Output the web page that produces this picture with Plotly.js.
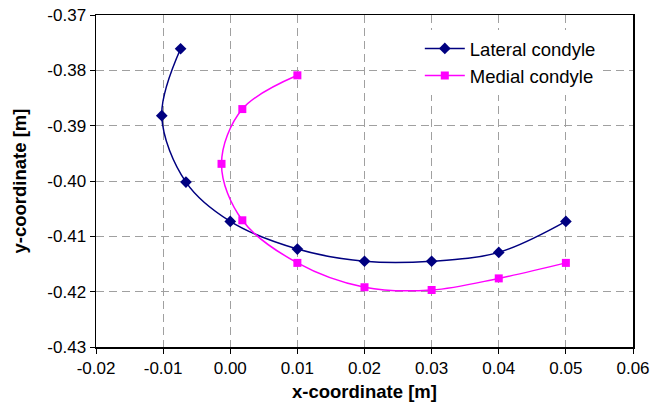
<!DOCTYPE html>
<html><head><meta charset="utf-8">
<script src="https://cdn.plot.ly/plotly-3.0.1.min.js"></script>
<style>body{margin:0;background:#fff}#chart{width:651px;height:411px}</style>
</head><body><div id="chart"></div>
<script>
const lateralX = [-0.0074, -0.0102, -0.0066, 0.0000, 0.010, 0.020, 0.030, 0.040, 0.050];
const lateralY = [-0.3761, -0.3882, -0.4002, -0.4073, -0.4123, -0.4145, -0.4145, -0.4129, -0.4073];
const medialX = [0.010, 0.0018, -0.0013, 0.0018, 0.010, 0.020, 0.030, 0.040, 0.050];
const medialY = [-0.3809, -0.3870, -0.3969, -0.4071, -0.4148, -0.4192, -0.4197, -0.4176, -0.4148];
const xTicks = [-0.02, -0.01, 0.00, 0.01, 0.02, 0.03, 0.04, 0.05, 0.06];
const yTicks = [-0.43, -0.42, -0.41, -0.40, -0.39, -0.38, -0.37];

const traces = [
  {x: lateralX, y: lateralY, name: 'Lateral condyle', mode: 'lines+markers',
   line: {color: '#000080', width: 1.5, shape: 'spline', smoothing: 1},
   marker: {symbol: 'diamond', size: 9, color: '#000080'}},
  {x: medialX, y: medialY, name: 'Medial condyle', mode: 'lines+markers',
   line: {color: '#FF00FF', width: 1.5, shape: 'spline', smoothing: 1},
   marker: {symbol: 'square', size: 8, color: '#FF00FF'}}
];
const fam = 'Liberation Sans, Arial, sans-serif';
const layout = {
  width: 651, height: 411,
  margin: {l: 96, r: 18, t: 15, b: 64},
  paper_bgcolor: '#fff', plot_bgcolor: '#fff',
  font: {family: fam, size: 17, color: '#000'},
  showlegend: true,
  legend: {x: 0.603, y: 0.955, xanchor: 'left', yanchor: 'top', bgcolor: '#fff', itemwidth: 40,
           font: {family: fam, size: 18.5, color: '#000'}, tracegroupgap: 0},
  xaxis: {
    range: [-0.02, 0.06], tickvals: xTicks, ticktext: xTicks.map(v => v.toFixed(2)),
    tickfont: {family: fam, size: 17, color: '#000'},
    showgrid: true, gridcolor: '#a0a0a0', griddash: '8px,5px', gridwidth: 1,
    zeroline: false, showline: true, linecolor: '#000', linewidth: 1.5, mirror: true,
    ticks: 'outside', ticklen: 5, tickcolor: '#000',
    title: {text: '<b>x-coordinate [m]</b>', font: {family: fam, size: 18.5, color: '#000'}, standoff: 8}
  },
  yaxis: {
    range: [-0.43, -0.37], tickvals: yTicks, ticktext: yTicks.map(v => v.toFixed(2)),
    tickfont: {family: fam, size: 17, color: '#000'},
    showgrid: true, gridcolor: '#a0a0a0', griddash: '8px,5px', gridwidth: 1,
    zeroline: false, showline: true, linecolor: '#000', linewidth: 1.5, mirror: true,
    ticks: 'outside', ticklen: 5, tickcolor: '#000',
    title: {text: '<b>y-coordinate [m]</b>', font: {family: fam, size: 18.5, color: '#000'}, standoff: 16}
  }
};
Plotly.newPlot('chart', traces, layout, {displayModeBar: false, staticPlot: true});
</script></body></html>
